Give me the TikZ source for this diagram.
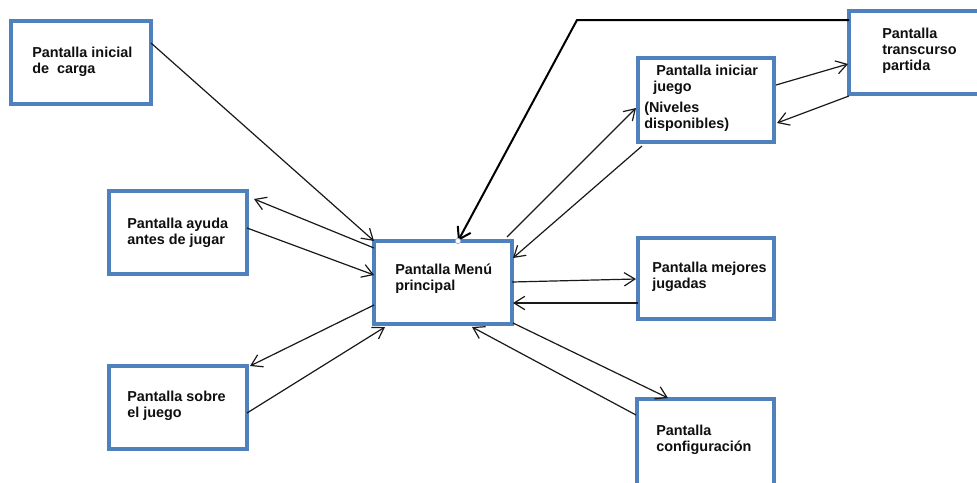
\documentclass[tikz,border=0pt]{standalone}
\usepackage{fontspec}
\setmainfont{Liberation Sans}
\usetikzlibrary{arrows.meta,calc}
\definecolor{boxblue}{RGB}{79,129,189}
\definecolor{txt}{RGB}{15,15,15}
\newcommand\scrtext[1]{\begin{tabular}[t]{@{}l@{}}#1\end{tabular}}
\begin{document}
\begin{tikzpicture}[x=0.75pt,y=-0.75pt,
  scr/.style={draw=boxblue, line width=2.7pt, fill=white, rectangle, outer sep=0pt, inner sep=0pt, anchor=north west},
  lbl/.style={anchor=base west, inner sep=0pt, font=\bfseries\fontsize{10.8}{12.2}\selectfont, text=txt},
  conn/.style={draw=black!90, line width=0.9pt, -{Straight Barb[length=8pt,width=10pt]}},
  bigconn/.style={draw=black, line width=1.5pt, -{Straight Barb[length=8.5pt,width=11pt]}}]
\useasboundingbox (0,0) rectangle (977,482);
\clip (0,0) rectangle (977,482);
\fill[white] (0,0) rectangle (977,482);
% boxes
\node[scr, minimum width=105pt, minimum height=62.25pt] (inicial) at (11,21) {};
\node[lbl] (tinicial) at (32,57) {\scrtext{Pantalla inicial\\de\ \ carga}};
\node[scr, minimum width=103.5pt, minimum height=62.25pt] (ayuda) at (109,191) {};
\node[lbl] (tayuda) at (127,228) {\scrtext{Pantalla ayuda\\antes de jugar}};
\node[scr, minimum width=103.5pt, minimum height=62.25pt] (sobre) at (109,366) {};
\node[lbl] (tsobre) at (127,401) {\scrtext{Pantalla sobre\\el juego}};
\node[scr, minimum width=103.5pt, minimum height=62.25pt] (menu) at (374,241) {};
\node[lbl] (tmenu) at (395,274) {\scrtext{Pantalla Menú\\principal}};
\node[scr, minimum width=102pt, minimum height=63pt] (iniciar) at (638,58) {};
\node[lbl] (tiniciar) at (644,75) {\scrtext{\hspace*{9pt}Pantalla iniciar\\\hspace*{6.75pt}juego\\[3.6pt](Niveles\\disponibles)}};
\node[scr, minimum width=300pt, minimum height=62.25pt] (trans) at (849,11) {};
\node[lbl] (ttrans) at (882,38) {\scrtext{Pantalla\\transcurso\\partida}};
\node[scr, minimum width=102pt, minimum height=60.75pt] (mejores) at (638,238) {};
\node[lbl] (tmejores) at (652,272) {\scrtext{Pantalla mejores\\jugadas}};
\node[scr, minimum width=102.75pt, minimum height=110pt] (config) at (637,399) {};
\node[lbl] (tconfig) at (656,435) {\scrtext{Pantalla\\configuración}};
% connectors
\draw[conn] ($(inicial.north east)+(0,22)$) -- (menu.north west);
\draw[conn] ($(menu.north west)+(0,7)$) -- ($(ayuda.north east)+(7,8)$);
\draw[conn] ($(ayuda.north east)+(0,37)$) -- ($(menu.north west)+(0,34)$);
\draw[conn] ($(menu.north west)+(0,64)$) -- ($(sobre.north east)+(3,0)$);
\draw[conn] ($(sobre.north east)+(0,47)$) -- ($(menu.south west)+(11,3)$);
\coordinate (bend) at (577,20);
\draw[bigconn] ($(trans.north west)+(0,9)$) -- (bend) -- ($(menu.north west)+(84,0)$);
\node[circle, draw=boxblue!60, fill=white, inner sep=0pt, minimum size=4pt, line width=0.5pt] (handle) at ($(menu.north west)+(84,0)$) {};
\draw[conn] ($(menu.north east)+(-5,-4)$) -- ($(iniciar.north west)+(-2,50)$);
\draw[conn] ($(iniciar.south west)+(4,4)$) -- ($(menu.north east)+(1,17)$);
\draw[conn] ($(iniciar.north east)+(2,27)$) -- ($(trans.north west)+(-1,53)$);
\draw[conn] ($(trans.south west)+(0,2)$) -- ($(iniciar.north east)+(3,65)$);
\draw[conn] ($(menu.north east)+(0,41)$) -- ($(mejores.north west)+(-2,41)$);
\draw[conn] ($(mejores.north west)+(0,65)$) -- ($(menu.north east)+(1,62)$);
\draw[conn] ($(menu.south east)+(1,-1)$) -- ($(config.north west)+(31,-1)$);
\draw[conn] ($(config.north west)+(-1,16)$) -- ($(menu.south west)+(98,3)$);
\end{tikzpicture}
\end{document}
